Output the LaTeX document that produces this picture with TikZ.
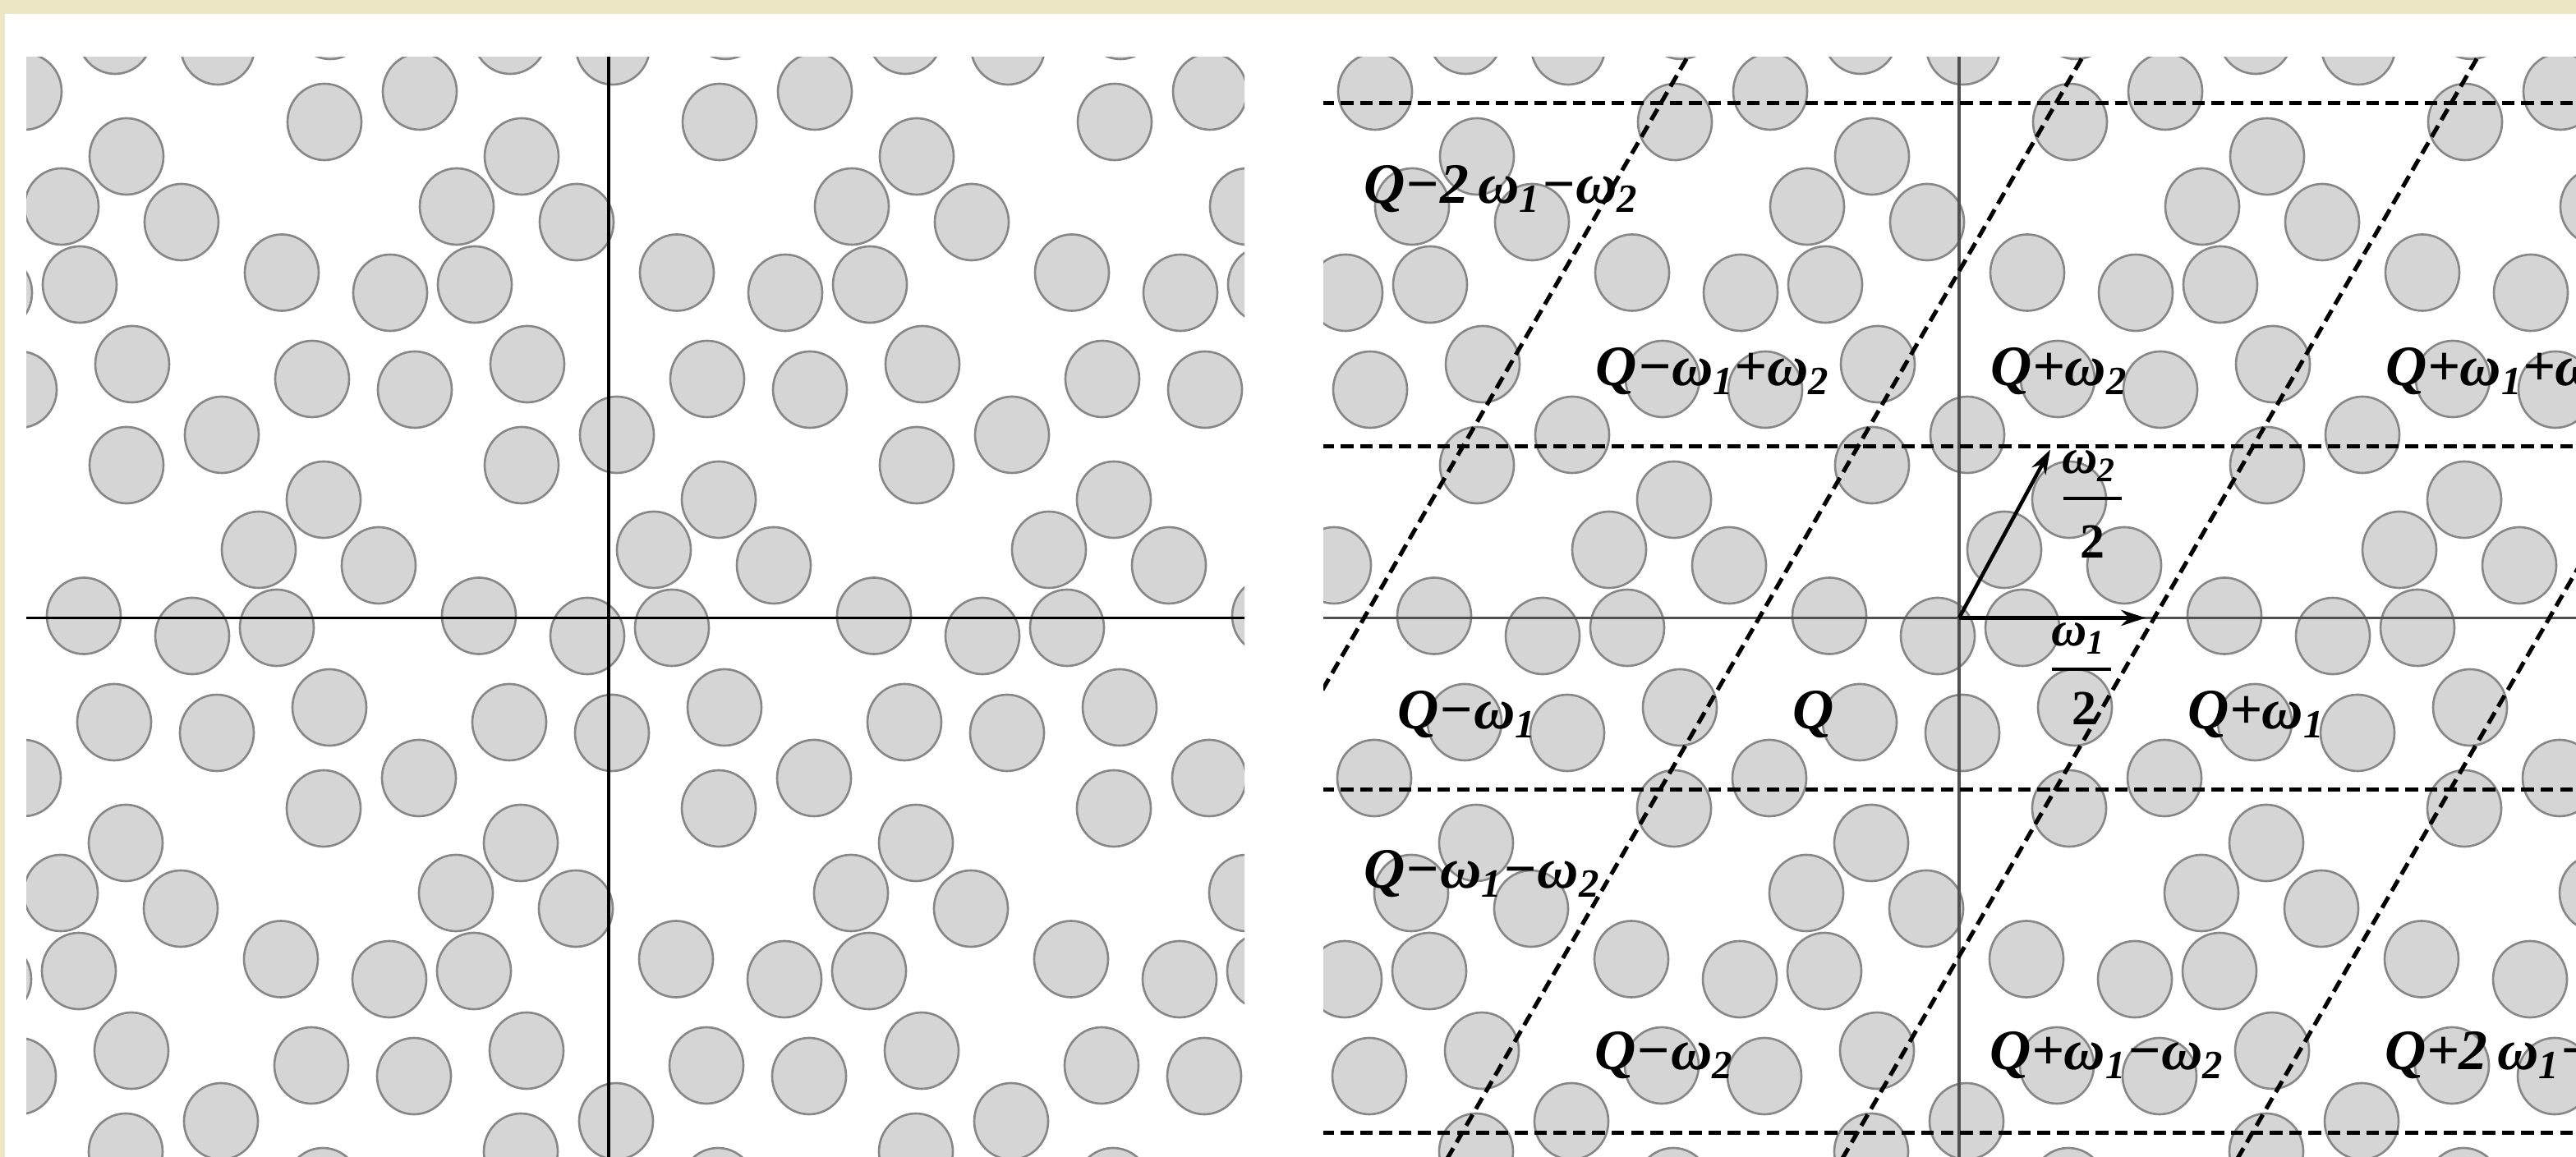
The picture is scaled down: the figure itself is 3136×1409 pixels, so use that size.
\documentclass[tikz,border=0pt]{standalone}
\usepackage{fontspec}
\setmainfont{Liberation Serif}
\usetikzlibrary{arrows.meta}
\definecolor{framebeige}{HTML}{EDE7C6}
\definecolor{discgray}{HTML}{D5D5D5}
\definecolor{discrim}{HTML}{878787}
\definecolor{axisgray}{HTML}{505050}
\newcommand{\om}[1]{ω\textsubscript{#1}}
\newcommand{\discfield}{%
  \foreach \m in {-3,...,3}{%
    \foreach \n in {-2,...,2}{%
      \foreach \cx/\cy in {10/223,-106/186,134/144,55/83,201/64,-26/-22,77/-12,4/-140,-121/-127,141/-109,-158/2.5}{%
        \draw[disc] ({\cx+481*(\m)+241*(\n)},{\cy+418*(\n)}) ellipse[x radius=45,y radius=46.5];
      }}}}
\tikzset{
    disc/.style={draw=discrim,fill=discgray,line width=0.75pt},
    axisline/.style={line width=0.95pt},
    cellline/.style={draw=black,line width=1.45pt,dash pattern=on 4.4pt off 2.3pt},
    halfvec/.style={draw=black,line width=1.3pt,-{Stealth[length=8.5pt,width=5.5pt]}},
    cellname/.style={anchor=base west,inner sep=0pt,font=\fontsize{19.8}{22}\selectfont\bfseries\itshape},
    fracpart/.style={inner sep=0pt,font=\fontsize{17}{20}\selectfont\bfseries}
}
\begin{document}
\begin{tikzpicture}[x=0.01cm,y=0.01cm]
\useasboundingbox (0,0) rectangle (3136,1409);
\fill[framebeige] (0,0) rectangle (3136,1409);
\fill[white] (6,0) rectangle (3136,1392);

\coordinate (leftO) at (741,656.5);
\coordinate (rightO) at (2385,656.5);

% left panel
\begin{scope}
  \clip (32,0) rectangle (1515,1339);
  \begin{scope}[shift={(leftO)}]
    \discfield
    \draw[axisline,black] (-800,0) -- (800,0);
    \draw[axisline,black] (0,-700) -- (0,683);
  \end{scope}
\end{scope}

% right panel
\begin{scope}
  \clip (1611,0) rectangle (3136,1339);
  \begin{scope}[shift={(rightO)}]
    \discfield
    \draw[axisline,axisgray] (-800,0) -- (800,0);
    \draw[axisline,axisgray] (0,-700) -- (0,700);
    \foreach \k in {-627,-209,209,627}{
      \draw[cellline] (-800,\k) -- (800,\k);
    }
    \foreach \k in {-2,...,1}{
      \draw[cellline] ({-3+(\k+0.5)*481-0.5766*700},-700) -- ({-3+(\k+0.5)*481+0.5766*700},700);
    }
  \end{scope}
\end{scope}

\begin{scope}[shift={(rightO)}]
  \coordinate (halfone) at (227,0);
  \coordinate (halftwo) at (111,205);
  \draw[halfvec] (0,0) -- (halfone);
  \draw[halfvec] (0,0) -- (halftwo);

  \node[fracpart,anchor=base west] (twonum) at (125,175.5) {\itshape\om{2}};
  \draw[line width=1.15pt] (127,145.5) -- (198,145.5);
  \node[fracpart,anchor=base] (twoden) at (162,72.5) {2};
  \node[fracpart,anchor=base west] (onenum) at (112,-34.5) {\itshape\om{1}};
  \draw[line width=1.15pt] (113,-62.5) -- (185,-62.5);
  \node[fracpart,anchor=base] (oneden) at (152,-130.5) {2};

  \foreach \lx/\ly/\txt [count=\i] in {
      -725/504.5/{Q−2\,\om{1}−\om{2}},
      -443/282.5/{Q−\om{1}+\om{2}},
      38/282.5/{Q+\om{2}},
      519/282.5/{Q+\om{1}+\om{2}},
      -684/-135.5/{Q−\om{1}},
      -203/-135.5/{Q},
      278/-135.5/{Q+\om{1}},
      -725/-329.5/{Q−\om{1}−\om{2}},
      -444/-550/{Q−\om{2}},
      37/-550/{Q+\om{1}−\om{2}},
      518/-550/{Q+2\,\om{1}−\om{2}}}{
    \node[cellname] (cell\i) at (\lx,\ly) {\txt};
  }
\end{scope}
\end{tikzpicture}
\end{document}
